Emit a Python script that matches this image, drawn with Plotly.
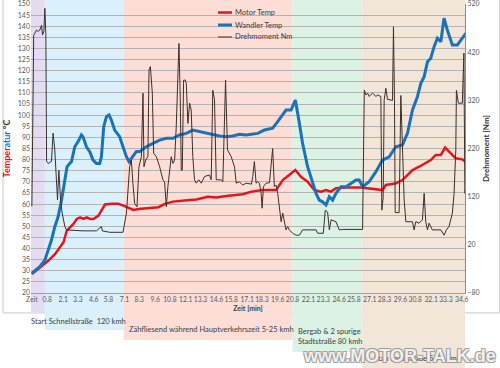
import plotly.graph_objects as go

# ---------------- data ----------------
x_tick_labels = ["Zeit", "0.8", "2.1", "3.3", "4.6", "5.8", "7.1", "8.3", "9.6", "10.8", "12.1",
                 "13.3", "14.6", "15.8", "17.1", "18.3", "19.6", "20.8", "22.1", "23.3", "24.6",
                 "25.8", "27.1", "28.3", "29.6", "30.8", "32.1", "33.3", "34.6"]

wandler_t = [-0.45, 0.20, 0.61, 0.88, 1.15, 1.42, 1.69, 1.97, 2.24, 2.42, 2.64, 2.78, 3.05, 3.32, 3.59,
             3.72, 4.00, 4.27, 4.54, 4.81, 5.08, 5.22, 5.41, 5.63, 5.84, 6.03, 6.30, 6.49, 6.71, 6.98,
             7.26, 7.47, 7.79, 8.07, 8.34, 8.88, 9.42, 9.97, 10.51, 11.05, 11.59, 12.14, 12.67, 13.22,
             13.77, 14.30, 14.85, 15.39, 15.93, 16.47, 17.02, 17.45, 17.96, 18.51, 19.18, 19.59, 20.00,
             20.27, 20.68, 21.03, 21.36, 21.62, 22.03, 22.44, 22.72, 22.98, 23.25, 23.53, 23.80, 24.07,
             24.34, 24.75, 25.16, 25.56, 25.97, 26.24, 26.51, 27.05, 27.60, 28.13, 28.68, 29.22, 29.76,
             30.17, 30.58, 30.98, 31.26, 31.53, 31.80, 32.07, 32.34, 32.61, 32.89, 33.15, 33.42, 33.83,
             34.24, 34.64, 34.92]
wandler_temp = [28.9, 31.8, 34.8, 39.3, 43.8, 49.8, 54.3, 61.8, 70.8, 76.8, 78.3, 79.1, 85.8, 88.1, 91.1,
                90.3, 85.8, 83.6, 79.8, 78.3, 78.3, 81.3, 94.8, 99.3, 100.1, 97.8, 93.3, 91.8, 90.3, 85.8,
                81.3, 79.1, 81.3, 83.6, 83.6, 85.8, 87.3, 88.8, 89.6, 89.6, 91.1, 91.8, 93.3, 92.6,
                91.8, 91.1, 90.6, 90.3, 90.6, 91.4, 91.1, 91.4, 91.8, 93.3, 94.1, 97.1, 100.1,
                102.3, 102.3, 106.8, 96.3, 87.3, 76.8, 69.3, 64.8, 61.8, 61.0, 59.6, 63.3, 61.8,
                64.8, 67.8, 67.8, 69.3, 70.8, 70.8, 67.8, 70.1, 74.6, 79.8, 81.3, 85.8, 86.6,
                91.8, 102.3, 108.3, 114.3, 117.3, 124.0, 125.6, 130.8, 134.6, 133.0, 143.6, 138.3, 131.6,
                131.6, 134.6, 136.8]

motor_t = [-0.45, 0.36, 0.91, 1.45, 1.85, 2.13, 2.40, 2.67, 2.94, 3.21, 3.48, 3.76, 4.03, 4.29, 4.57,
           4.98, 5.25, 5.51, 6.06, 6.60, 7.01, 7.42, 7.83, 8.23, 9.05, 9.86, 10.40, 10.80, 11.05, 12.41,
           12.95, 13.90, 14.58, 15.39, 16.21, 16.74, 17.45, 18.37, 19.46, 20.00, 20.68, 21.03, 21.49,
           22.03, 22.58, 23.12, 23.53, 23.94, 24.34, 25.16, 26.40, 28.13, 28.41, 29.22, 29.76, 30.58,
           31.12, 31.66, 32.07, 32.48, 32.89, 33.24, 33.56, 34.11, 34.64, 34.92]
motor_temp = [28.5, 32.3, 34.6, 37.6, 40.6, 42.8, 48.1, 49.6, 51.1, 53.3, 54.0, 53.3, 54.0, 53.3, 53.3,
              54.8, 57.1, 59.8, 60.1, 60.1, 59.3, 58.3, 57.4, 57.8, 58.3, 58.6, 60.1, 60.8, 61.1, 61.8,
              62.1, 63.3, 63.0, 63.6, 64.1, 64.4, 65.6, 66.3, 66.3, 70.8, 73.8, 75.3, 72.3,
              70.1, 66.3, 65.6, 66.3, 65.6, 67.1, 67.5, 67.5, 66.3, 68.6, 69.3, 70.8, 75.3,
              76.8, 78.3, 79.8, 82.1, 82.1, 85.4, 83.6, 80.6, 80.1, 79.1]

dreh_t = [-0.45, -0.30, -0.07, 0.06, 0.20, 0.34, 0.42, 0.53, 0.61, 0.69, 0.75, 0.88, 1.15, 1.28, 1.42,
          1.56, 1.64, 1.75, 1.89, 2.02, 2.24, 2.37, 3.72, 4.81, 5.22, 5.30, 5.90, 6.98, 7.26, 7.52,
          7.66, 7.79, 7.93, 8.12, 8.28, 8.48, 8.61, 8.69, 8.83, 9.01, 9.10, 9.21, 9.37, 9.48, 9.70,
          9.97, 10.23, 10.37, 10.51, 10.64, 10.78, 10.91, 11.05, 11.19, 11.32, 11.54, 11.65, 11.73,
          11.81, 11.92, 12.06, 12.14, 12.27, 12.41, 12.54, 12.67, 12.81, 12.95, 13.16, 13.36, 13.63,
          14.03, 14.17, 14.30, 14.44, 14.58, 14.99, 15.12, 15.34, 15.50, 15.80, 16.07, 16.21, 16.47,
          16.74, 17.02, 17.45, 17.56, 17.69, 17.83, 17.96, 18.10, 18.24, 18.32, 18.43, 18.65, 18.92,
          19.05, 19.18, 19.32, 19.46, 19.59, 19.73, 19.87, 20.00, 20.14, 20.27, 20.40, 20.54, 20.81,
          21.09, 21.36, 21.62, 22.72, 22.85, 23.31, 23.47, 23.66, 23.80, 23.94, 24.34, 24.61, 24.88,
          26.51, 26.65, 26.79, 26.92, 27.05, 27.32, 27.60, 27.73, 28.00, 28.08, 28.19, 28.27, 28.41,
          28.54, 28.95, 29.03, 29.11, 29.17, 29.49, 29.63, 29.76, 29.90, 30.04, 30.58, 30.71, 30.85,
          31.12, 31.39, 31.53, 31.66, 31.80, 31.93, 32.20, 32.89, 33.15, 33.34, 33.56, 33.83, 33.97,
          34.11, 34.16, 34.32, 34.64, 34.77, 34.85, 34.91]
dreh_nm = [100, 455, 466, 463, 466, 476, 456, 463, 511, 459, 193, 189, 193, 252, 217,
           127, 113, 175, 113, 86, 58, 51, 49, 49, 58, 49, 46, 46, 86, 182,
           196, 147, 106, 99, 182, 203, 335, 182, 196, 203, 383, 390, 335, 210, 203,
           182, 155, 151, 99, 141, 182, 203, 189, 196, 265, 438, 321, 175,
           175, 362, 362, 355, 272, 314, 300, 203, 155, 148, 155, 148, 162,
           165, 155, 341, 321, 155, 155, 151, 362, 217, 203, 182, 148, 151,
           144, 148, 146, 162, 193, 148, 151, 148, 127, 96, 141, 148, 149,
           182, 220, 141, 144, 127, 92, 68, 86, 68, 51, 58, 51, 44,
           40, 40, 51, 51, 44, 44, 92, 88, 51, 72, 68, 51, 52,
           52, 341, 331, 335, 328, 335, 328, 331, 328, 92, 118, 321, 345,
           322, 320, 473, 321, 87, 87, 330, 224, 113, 68, 68, 51, 68,
           65, 72, 127, 68, 51, 65, 51, 51, 40, 51, 58, 86, 127,
           217, 341, 314, 314, 418, 127, 141]

series_names = ["Motor Temp", "Wandler Temp", "Drehmoment Nm"]

# phases: (label, start, end) in minutes
phase_labels = ["", "Start Schnellstraße  120 kmh", "Zähfliesend während Hauptverkehrszeit 5-25 kmh",
                "Bergab & 2 spurige<br>Stadtstraße 80 kmh", "Stau Landstraße 5-75 kmh"]
phase_edges = [-0.52, 0.61, 7.04, 20.79, 26.48, 34.86]

# ---------------- styling ----------------
X_RANGE = [-0.52, 34.86]
RED = "#e8141c"
BLUE = "#1b72b8"
DARK = "#3b302b"
FONT = "Lato"
phase_colors = ["rgba(228,220,240,1)", "rgba(218,240,251,1)", "rgba(253,222,214,1)",
                "rgba(219,242,228,1)", "rgba(242,230,216,1)"]
phase_bottom = [-0.069, -0.128, -0.163, -0.204, -0.27]
label_pos = [None, (-0.005, -0.100), (0.221, -0.128), (0.611, -0.152), (0.786, -0.225)]


def xp(t):
    return (t - X_RANGE[0]) / (X_RANGE[1] - X_RANGE[0])


fig = go.Figure()
fig.add_trace(go.Scatter(x=dreh_t, y=dreh_nm, mode="lines", name=series_names[2], yaxis="y2",
                         line=dict(color=DARK, width=1), showlegend=False))
fig.add_trace(go.Scatter(x=motor_t, y=motor_temp, mode="lines", name=series_names[0],
                         line=dict(color=RED, width=2.5), showlegend=False))
fig.add_trace(go.Scatter(x=wandler_t, y=wandler_temp, mode="lines", name=series_names[1],
                         line=dict(color=BLUE, width=3), showlegend=False))

shapes = []
# chart area border
shapes.append(dict(type="rect", xref="paper", yref="paper", x0=-0.0645, x1=1.08, y0=-0.069, y1=1.02,
                   line=dict(color="#c8c8c8", width=1), fillcolor="rgba(0,0,0,0)", layer="below"))
for i in range(5):
    shapes.append(dict(type="rect", xref="paper", yref="paper",
                       x0=xp(phase_edges[i]), x1=xp(phase_edges[i + 1]),
                       y0=phase_bottom[i], y1=1.02, line=dict(width=0),
                       fillcolor=phase_colors[i], layer="below"))

annotations = []
for i in range(1, 5):
    annotations.append(dict(text=phase_labels[i], xref="paper", yref="paper",
                            x=label_pos[i][0], y=label_pos[i][1], xanchor="left", yanchor="middle",
                            align="left", showarrow=False,
                            font=dict(family=FONT, size=7.5, color="#404040")))

# custom legend
leg_colors = [RED, BLUE, DARK]
leg_widths = [2.5, 3, 1]
leg_y = [12.5, 25, 37]
for i in range(3):
    yp = (293 - leg_y[i]) / 289
    shapes.append(dict(type="line", xref="paper", yref="paper", x0=(218 - 31) / 434, x1=(232 - 31) / 434,
                       y0=yp, y1=yp, line=dict(color=leg_colors[i], width=leg_widths[i])))
    annotations.append(dict(text=series_names[i], xref="paper", yref="paper", x=(233 - 31) / 434, y=yp,
                            xanchor="left", yanchor="middle", showarrow=False,
                            font=dict(family=FONT, size=7.5, color="#404040")))

# watermark
annotations.append(dict(text="<b>www.MOTOR-TALK.de</b>", xref="paper", yref="paper", x=0.848, y=-0.218,
                        xanchor="center", yanchor="middle", showarrow=False,
                        font=dict(family="Liberation Sans", size=18, color="rgba(255,255,255,0.85)",
                                  shadow="1px 1px 0 #9a9a9a, -1px -1px 0 #9a9a9a, 1px -1px 0 #9a9a9a, -1px 1px 0 #9a9a9a")))

tickvals = [-0.45] + [float(s) for s in x_tick_labels[1:]]

fig.update_layout(
    width=500, height=368,
    margin=dict(l=31, r=35, t=4, b=75),
    paper_bgcolor="white", plot_bgcolor="rgba(0,0,0,0)",
    font=dict(family=FONT, size=7, color="#595959"),
    showlegend=False,
    shapes=shapes, annotations=annotations,
    xaxis=dict(range=X_RANGE, tickmode="array", tickvals=tickvals, ticktext=x_tick_labels,
               tickangle=0, showgrid=False, zeroline=False, showline=True, linecolor="#a0a0a0",
               automargin=False, ticklabeloverflow="allow", tickfont=dict(size=6.8, color="#595959"),
               title=dict(text="<b>Zeit [min]</b>", font=dict(size=7, color="#404040"), standoff=3)),
    yaxis=dict(range=[20, 150], dtick=5, tick0=20, showgrid=True, gridcolor="#b3b3b3", gridwidth=1,
               zeroline=False, showline=False, automargin=False, ticklabeloverflow="allow",
               tickfont=dict(size=7, color="#595959"),
               title=dict(text="<b><span style='color:%s'>Temper</span><span style='color:%s'>atur</span>"
                               " <span style='color:#333'>°C</span></b>" % (RED, BLUE),
                          font=dict(size=9), standoff=5)),
    yaxis2=dict(range=[-80, 520], dtick=100, tick0=-80, overlaying="y", side="right", showgrid=False,
                zeroline=False, showline=True, linecolor="#8c8c8c", automargin=False,
                ticklabeloverflow="allow", tickfont=dict(size=7, color="#595959"),
                title=dict(text="<b>Drehmoment [Nm]</b>", font=dict(size=8, color="#333333"), standoff=4)),
)

fig.write_html("out.html", config={"displayModeBar": False},
               post_script="document.body.style.margin='0px';document.body.style.padding='0px';")
